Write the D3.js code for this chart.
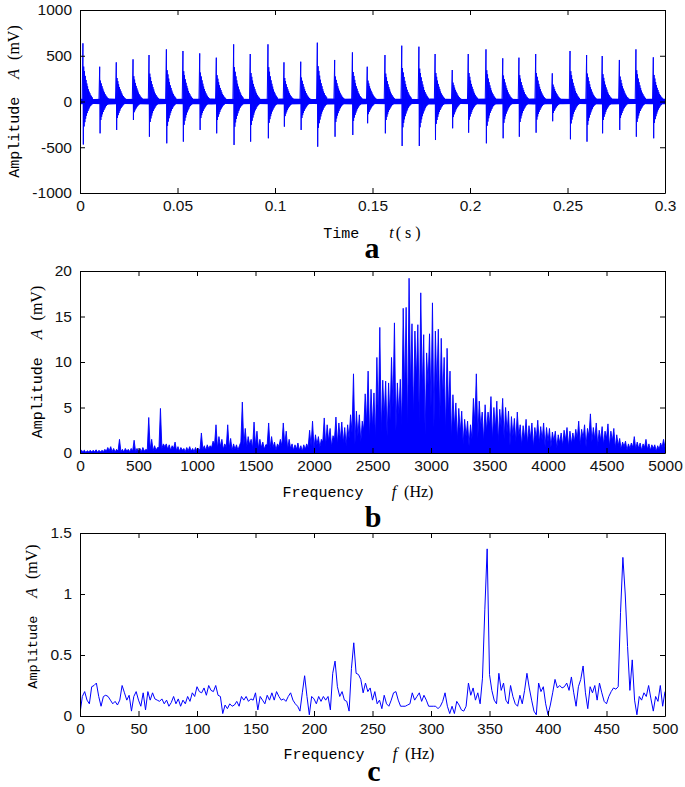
<!DOCTYPE html>
<html>
<head>
<meta charset="utf-8">
<script src="https://cdn.jsdelivr.net/npm/d3@7"></script>
<style>
  html, body { margin: 0; padding: 0; background: #fff; }
  svg { display: block; }
  .tick text { font-family: "Liberation Sans", Arial, sans-serif; font-size: 15.5px; fill: #111; }
  .mono { font-family: "Liberation Mono", "Courier New", monospace; }
  .serif { font-family: "Liberation Serif", "Times New Roman", serif; }
</style>
</head>
<body>
<script>
// ---------------- DATA ----------------
// Panel a: time signal, one burst per impact
const aTimes = [0.0015,0.0101,0.0186,0.0272,0.0354,0.0443,0.0528,0.0614,0.0699,0.0788,0.0873,0.0964,0.1046,0.1132,0.1217,0.1306,0.1397,0.1473,0.1564,0.1650,0.1738,0.1821,0.1909,0.1991,0.2082,0.2168,0.2251,0.2337,0.2422,0.2513,0.2598,0.2678,0.2766,0.2851,0.2940];
const aMax = [636,380,428,461,508,570,552,526,479,625,519,625,428,435,643,454,537,380,508,610,599,519,344,519,570,472,479,519,308,552,508,497,454,570,483];
const aMin = [-470,-348,-311,-202,-385,-457,-439,-311,-348,-475,-439,-402,-275,-311,-494,-385,-366,-238,-348,-486,-486,-421,-293,-341,-457,-402,-385,-341,-216,-413,-439,-348,-311,-385,-402];
// typical decay of a burst (relative to its peak), step 0.0004 s
const aPosEnvelope = [1.0,0.6,0.52,0.44,0.37,0.31,0.26,0.21,0.17,0.14,0.11,0.09,0.07];
const aNegEnvelope = [1.0,0.58,0.48,0.4,0.33,0.27,0.22,0.18,0.14,0.11,0.09,0.07,0.06];
const aEnvStep = 0.0004;
// background noise half-width (mV), every 0.0075 s
const aNoiseStep = 0.0075;
const aNoise = [30,28,32,26,30,33,28,31,29,34,28,30,26,31,33,29,28,32,30,33,28,31,30,26,33,31,28,30,32,29,28,33,30,31,28,30,33,31,28,30,31];

// Panel b: spectrum 0-5000 Hz
const bBin = 25;
// peak in each 25 Hz bin
const bMax = [
 0.3,0.3,0.25,0.3,0.3,0.35,0.3,0.3,0.4,0.6,
 0.7,0.5,0.4,1.5,0.4,0.5,0.4,0.5,1.4,0.5,
 0.5,0.6,0.4,3.9,1.5,0.8,0.6,4.9,1.0,1.0,
 0.9,0.8,1.2,0.7,0.6,0.5,0.6,0.7,0.5,0.6,
 0.5,2.2,0.8,0.9,0.8,1.3,3.1,1.8,1.5,1.0,
 3.1,1.6,1.0,0.9,0.8,5.6,2.7,1.8,1.5,3.4,
 2.4,1.5,1.2,0.9,3.3,1.8,1.2,1.0,1.5,3.3,
 2.4,1.5,1.0,0.9,1.1,0.8,0.9,1.0,2.5,3.5,
 2.0,1.8,1.5,3.85,3.1,2.7,1.9,3.95,3.3,3.4,
 2.8,3.1,4.2,8.7,4.6,4.2,3.5,6.5,9.0,7.0,
 6.6,10.5,13.8,8.0,7.9,7.7,10.5,14.3,7.7,8.1,
 15.9,16.0,19.2,14.2,13.4,14.1,17.6,13.0,11.0,13.1,
 16.5,13.4,13.6,12.6,10.5,11.5,9.0,6.4,5.5,4.9,
 4.6,3.7,3.5,3.1,6.0,8.7,5.7,4.5,5.3,4.5,
 6.2,5.0,5.7,4.8,6.0,5.0,4.6,4.0,3.8,4.5,
 3.1,3.0,3.7,3.0,3.3,2.8,3.6,2.9,3.3,2.8,
 2.7,2.3,2.4,2.0,2.2,2.5,2.8,2.4,2.2,2.6,
 3.5,2.6,3.1,2.7,4.3,2.8,3.3,2.5,2.9,2.4,
 3.2,2.4,2.7,2.0,1.6,1.2,1.3,1.0,1.1,1.8,
 1.2,1.1,1.0,1.5,1.0,0.9,0.9,0.8,1.1,1.5
];
// trough at the start of each 25 Hz bin
const bLow = [
 0.1,0.15,0.05,0.12,0.1,0.15,0.08,0.12,0.15,0.2,
 0.25,0.15,0.1,0.2,0.15,0.1,0.2,0.15,0.2,0.15,
 0.2,0.15,0.2,0.3,0.4,0.25,0.3,0.6,0.5,0.7,
 0.4,0.3,0.5,0.25,0.2,0.3,0.15,0.25,0.2,0.15,
 0.2,0.3,0.4,0.3,0.5,0.6,0.9,0.5,0.7,0.4,
 0.6,0.5,0.3,0.4,0.3,1.2,0.8,0.6,0.9,0.5,
 0.8,0.5,0.6,0.4,0.9,0.5,0.6,0.3,0.7,0.8,
 0.9,0.4,0.5,0.3,0.4,0.3,0.2,0.4,0.6,0.8,
 0.5,0.9,0.6,1.2,0.8,1.3,0.7,1.5,0.9,1.4,
 1.1,0.8,1.6,2.2,1.0,1.8,1.2,2.5,3.2,1.6,
 2.8,1.5,3.5,2.2,4.0,1.8,3.6,5.0,2.4,4.2,
 3.0,6.5,2.5,7.2,4.0,8.0,3.2,6.8,2.0,7.5,
 5.0,2.8,7.0,3.5,6.0,2.2,4.5,1.6,2.8,1.4,
 2.2,1.0,1.8,0.8,1.5,3.2,1.6,2.8,1.2,2.4,
 3.0,1.4,2.6,1.2,2.8,1.5,2.2,0.8,1.8,1.2,
 1.8,0.8,1.5,1.0,1.6,0.6,1.5,1.1,1.4,0.7,
 1.2,0.6,1.3,0.5,1.1,0.8,1.4,0.7,1.0,1.2,
 1.5,0.9,1.6,0.7,1.8,1.2,1.5,0.8,1.4,0.9,
 1.6,0.7,1.3,0.5,0.8,0.4,0.7,0.3,0.5,0.6,
 0.4,0.5,0.3,0.6,0.4,0.3,0.5,0.2,0.4,0.6
];

// Panel c: low-frequency spectrum 0-500 Hz, every 2 Hz
const cStep = 2;
const cValues = [
 0.02,0.16,0.2,0.13,0.1,0.24,0.25,0.27,0.16,0.08,
 0.16,0.17,0.16,0.13,0.1,0.12,0.09,0.13,0.25,0.19,
 0.13,0.17,0.04,0.16,0.2,0.13,0.08,0.19,0.05,0.2,
 0.13,0.19,0.14,0.13,0.12,0.14,0.1,0.13,0.08,0.11,
 0.16,0.1,0.14,0.08,0.13,0.1,0.16,0.12,0.19,0.16,
 0.24,0.2,0.19,0.23,0.17,0.25,0.21,0.2,0.25,0.17,
 0.16,0.02,0.09,0.06,0.1,0.08,0.09,0.12,0.08,0.16,
 0.13,0.16,0.12,0.14,0.13,0.19,0.05,0.16,0.13,0.1,
 0.17,0.13,0.19,0.13,0.2,0.16,0.13,0.14,0.12,0.16,
 0.19,0.13,0.1,0.08,0.04,0.19,0.33,0.16,0.01,0.16,
 0.14,0.1,0.16,0.12,0.16,0.13,0.16,0.05,0.35,0.45,
 0.24,0.16,0.2,0.13,0.12,0.04,0.39,0.6,0.35,0.34,
 0.3,0.19,0.27,0.2,0.23,0.13,0.2,0.1,0.13,0.06,
 0.17,0.1,0.08,0.13,0.19,0.2,0.13,0.08,0.08,0.08,
 0.09,0.1,0.19,0.13,0.16,0.19,0.12,0.17,0.13,0.08,
 0.08,0.08,0.08,0.06,0.08,0.12,0.19,0.08,0.02,0.08,
 0.02,0.12,0.09,0.05,0.04,0.08,0.27,0.17,0.23,0.13,
 0.19,0.1,0.31,0.87,1.37,0.34,0.21,0.13,0.1,0.35,
 0.21,0.27,0.13,0.1,0.25,0.16,0.1,0.08,0.17,0.1,
 0.21,0.35,0.23,0.13,0.04,0.01,0.27,0.2,0.24,0.1,
 0.01,0.09,0.19,0.3,0.23,0.25,0.23,0.24,0.27,0.21,
 0.32,0.19,0.08,0.24,0.3,0.41,0.19,0.06,0.24,0.19,
 0.25,0.13,0.27,0.19,0.12,0.1,0.16,0.2,0.23,0.22,
 0.24,0.85,1.30,1.0,0.57,0.21,0.46,0.13,0.01,0.16,
 0.13,0.19,0.16,0.25,0.14,0.04,0.16,0.12,0.25,0.08,
 0.2
];

// Ticks
const aXTicks = [0,0.05,0.1,0.15,0.2,0.25,0.3];
const aYTicks = [-1000,-500,0,500,1000];
const bXTicks = [0,500,1000,1500,2000,2500,3000,3500,4000,4500,5000];
const bYTicks = [0,5,10,15,20];
const cXTicks = [0,50,100,150,200,250,300,350,400,450,500];
const cYTicks = [0,0.5,1,1.5];

// ---------------- DRAW ----------------
const W = 685, H = 787;
const svg = d3.select("body").append("svg").attr("width", W).attr("height", H);
svg.append("rect").attr("width", W).attr("height", H).attr("fill", "#fff");

const L = 80, R = 665;
const BLUE = "#0000ff";

function panel(cfg) {
  const x = d3.scaleLinear().domain(cfg.xDomain).range([L, R]);
  const y = d3.scaleLinear().domain(cfg.yDomain).range([cfg.bottom, cfg.top]);
  const g = svg.append("g");
  const clipId = "clip" + cfg.id;
  svg.append("clipPath").attr("id", clipId).append("rect")
    .attr("x", L).attr("y", cfg.top).attr("width", R - L).attr("height", cfg.bottom - cfg.top);
  const plot = g.append("g").attr("clip-path", `url(#${clipId})`);
  cfg.draw(plot, x, y);

  // axes
  g.append("g").attr("transform", `translate(0,${cfg.bottom})`)
    .call(d3.axisBottom(x).tickValues(cfg.xTicks).tickFormat(d => d).tickSizeInner(-5).tickSizeOuter(0).tickPadding(7));
  g.append("g").attr("transform", `translate(0,${cfg.top})`)
    .call(d3.axisTop(x).tickValues(cfg.xTicks).tickFormat("").tickSizeInner(-5).tickSizeOuter(0));
  g.append("g").attr("transform", `translate(${L},0)`)
    .call(d3.axisLeft(y).tickValues(cfg.yTicks).tickFormat(d => d).tickSizeInner(-5).tickSizeOuter(0).tickPadding(8));
  g.append("g").attr("transform", `translate(${R},0)`)
    .call(d3.axisRight(y).tickValues(cfg.yTicks).tickFormat("").tickSizeInner(-5).tickSizeOuter(0));
  g.selectAll(".domain").attr("stroke", "#000").attr("stroke-width", 1);
  g.selectAll(".tick line").attr("stroke", "#000");

  // y label
  const yl = g.append("text")
    .attr("transform", `translate(${cfg.yLabelX},${(cfg.top + cfg.bottom) / 2 + (cfg.yLabelShift||0)}) rotate(-90)`)
    .attr("text-anchor", "middle").attr("fill", "#000");
  yl.append("tspan").attr("class", "mono").attr("font-size", cfg.yMonoSize || 15).text("Amplitude");
  yl.append("tspan").attr("class", "serif").attr("font-style", "italic").attr("font-size", 16).attr("dx", 18).text("A");
  yl.append("tspan").attr("class", "serif").attr("font-size", 16).attr("dx", 9).text("(mV)");

  // x label
  const xl = g.append("text").attr("x", cfg.xLabelX).attr("y", cfg.xLabelY)
    .attr("text-anchor", "middle").attr("fill", "#000");
  xl.append("tspan").attr("class", "mono").attr("font-size", 15).text(cfg.xWord);
  xl.append("tspan").attr("class", "serif").attr("font-style", "italic").attr("font-size", 16).attr("dx", cfg.xGap).text(cfg.xSym);
  xl.append("tspan").attr("class", "serif").attr("font-size", 16).attr("dx", cfg.unitGap)
    .attr("letter-spacing", cfg.unitSpacing || 0).text(cfg.xUnit);

  // panel letter
  g.append("text").attr("class", "serif").attr("x", cfg.letterX).attr("y", cfg.letterY)
    .attr("text-anchor", "middle").attr("font-weight", "bold").attr("font-size", 30)
    .attr("fill", "#000").text(cfg.letter);
}

// Panel a
panel({
  id: "a", top: 10, bottom: 193,
  xDomain: [0, 0.3], yDomain: [-1000, 1000],
  xTicks: aXTicks, yTicks: aYTicks,
  yLabelX: 19, xLabelX: 374, xLabelY: 238, xWord: "Time", xSym: "t", xUnit: "(s)",
  xGap: 30, unitGap: 2, unitSpacing: 4,
  letter: "a", letterX: 372, letterY: 258,
  draw: (p, x, y) => {
    const noisePts = aNoise.map((v, i) => [i * aNoiseStep, v]);
    p.append("path")
      .attr("d", d3.area().x(d => x(d[0])).y0(d => y(-d[1])).y1(d => y(d[1]))(noisePts))
      .attr("fill", BLUE);
    const line = d3.line().x(d => x(d[0])).y(d => y(d[1]));
    aTimes.forEach((t, i) => {
      const pts = [[t - aEnvStep, 0]];
      aPosEnvelope.forEach((e, k) => {
        pts.push([t + k * aEnvStep, aMax[i] * e]);
        pts.push([t + (k + 0.5) * aEnvStep, aMin[i] * aNegEnvelope[k]]);
      });
      p.append("path").attr("d", line(pts)).attr("fill", "none")
        .attr("stroke", BLUE).attr("stroke-width", 1);
    });
  }
});

// Panel b
panel({
  id: "b", top: 271, bottom: 453,
  xDomain: [0, 5000], yDomain: [0, 20],
  xTicks: bXTicks, yTicks: bYTicks,
  yLabelX: 42, xLabelX: 358, xLabelY: 497, xWord: "Frequency", xSym: "f", xUnit: "(Hz)",
  xGap: 28, unitGap: 8,
  letter: "b", letterX: 373, letterY: 527,
  draw: (p, x, y) => {
    // trough -> peak in every bin; the dense spectrum is filled below its outline
    const pts = [];
    bMax.forEach((v, i) => {
      pts.push([i * bBin, bLow[i]]);
      pts.push([i * bBin + bBin / 2, v]);
    });
    pts.push([bMax.length * bBin, bLow[bLow.length - 1]]);
    p.append("path")
      .attr("d", d3.area().x(d => x(d[0])).y0(y(0)).y1(d => y(d[1]))(pts))
      .attr("fill", BLUE).attr("stroke", BLUE).attr("stroke-width", 0.9);
  }
});

// Panel c
panel({
  id: "c", top: 533, bottom: 716,
  xDomain: [0, 500], yDomain: [0, 1.5],
  xTicks: cXTicks, yTicks: cYTicks,
  yLabelX: 37, yMonoSize: 13.5, yLabelShift: -8,
  xLabelX: 359, xLabelY: 759, xWord: "Frequency", xSym: "f", xUnit: "(Hz)",
  xGap: 28, unitGap: 8,
  letter: "c", letterX: 374, letterY: 781,
  draw: (p, x, y) => {
    const pts = cValues.map((v, i) => [i * cStep, v]);
    p.append("path").attr("d", d3.line().x(d => x(d[0])).y(d => y(d[1]))(pts))
      .attr("fill", "none").attr("stroke", BLUE).attr("stroke-width", 1);
  }
});
</script>
</body>
</html>
